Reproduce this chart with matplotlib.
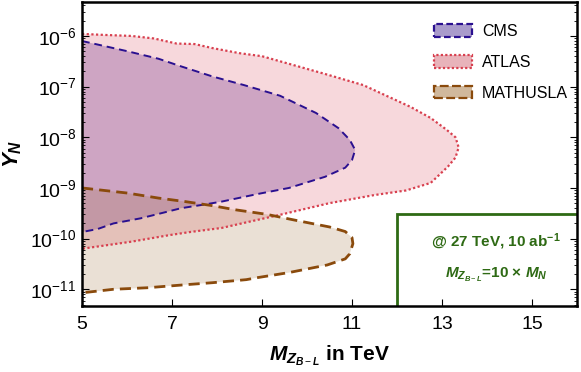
import numpy as np
import matplotlib
matplotlib.use("Agg")
import matplotlib.pyplot as plt
from matplotlib.patches import Patch, Rectangle

plt.rcParams["font.family"] = ["Liberation Sans", "DejaVu Sans"]
plt.rcParams["mathtext.fontset"] = "custom"
plt.rcParams["mathtext.rm"] = "Liberation Sans"
plt.rcParams["mathtext.it"] = "Liberation Sans:italic:bold"
plt.rcParams["mathtext.bf"] = "Liberation Sans:bold"

# closed contours: mass in TeV, log10(Y_N)
cms_x = [5.0, 5.5, 6.0, 6.7, 7.2, 7.9, 8.6, 9.4, 10.2, 10.7, 10.95, 11.07,
         11.0, 10.85, 10.4, 9.6, 8.9, 8.1, 7.7, 7.2, 6.8, 6.3, 5.7, 5.35, 5.0]
cms_logy = [-6.1, -6.2, -6.3, -6.45, -6.6, -6.8, -6.97, -7.18, -7.52, -7.82, -8.05, -8.25,
            -8.45, -8.6, -8.78, -9.0, -9.12, -9.27, -9.33, -9.4, -9.49, -9.6, -9.7, -9.81, -9.87]

atlas_x = [5.0, 5.5, 6.1, 6.6, 7.1, 7.5, 7.9, 8.5, 9.0, 9.4, 10.4, 11.25, 12.3, 12.75,
           13.1, 13.3, 13.37, 13.3, 13.13, 12.75, 12.2, 11.5, 10.5, 9.4, 8.9, 8.1,
           7.4, 6.95, 6.1, 5.0]
atlas_logy = [-5.96, -5.98, -6.0, -6.05, -6.15, -6.16, -6.24, -6.34, -6.4, -6.5, -6.75,
              -6.97, -7.4, -7.62, -7.85, -8.0, -8.2, -8.4, -8.58, -8.9, -9.05, -9.14,
              -9.3, -9.53, -9.63, -9.79, -9.87, -9.93, -10.06, -10.2]

mathusla_x = [5.0, 6.0, 6.7, 7.3, 7.9, 8.4, 9.1, 9.7, 10.5, 10.85, 11.0, 11.02, 10.95,
              10.85, 10.45, 9.6, 8.9, 8.65, 7.9, 7.3, 6.45, 5.7, 5.0]
mathusla_logy = [-9.0, -9.1, -9.2, -9.27, -9.35, -9.43, -9.52, -9.63, -9.77, -9.86, -9.98,
                 -10.1, -10.3, -10.4, -10.52, -10.67, -10.77, -10.81, -10.87, -10.91,
                 -10.97, -11.0, -11.07]

labels = ["CMS", "ATLAS", "MATHUSLA"]
xticks = [5, 7, 9, 11, 13, 15]

fig = plt.figure(figsize=(5.81, 3.72), dpi=100)
ax = fig.add_axes([82 / 581, 66 / 372, 495 / 581, 304 / 372])

styles = [
    (cms_x, cms_logy, (0.38, 0.22, 0.62), 0.32, "#2a1090", 1.4, (0, (4, 2.5))),
    (atlas_x, atlas_logy, (0.86, 0.25, 0.33), 0.2, "#d8404f", 1.6, (0, (1, 1.1))),
    (mathusla_x, mathusla_logy, (0.6, 0.4, 0.18), 0.2, "#8a4a0c", 2.0, (0, (4, 2.2))),
]

for xs, ly, fc, a, ec, lw, ls in styles:
    ys = 10.0 ** np.array(ly)
    ax.fill(xs, ys, color=fc, alpha=a, lw=0)
for xs, ly, fc, a, ec, lw, ls in styles:
    ys = 10.0 ** np.array(ly)
    ax.plot(xs, ys, color=ec, lw=lw, linestyle=ls)

ax.set_yscale("log")
ax.set_xlim(5, 16)
ax.set_ylim(10 ** -11.33, 10 ** -5.33)
ax.set_xticks(xticks)
ax.tick_params(which="both", direction="in", left=True, right=True, top=False,
               labelsize=14)
ax.tick_params(axis="y", pad=4)
ax.tick_params(axis="x", pad=7)
ax.tick_params(which="major", length=5)
ax.tick_params(which="minor", length=2.5)
for s in ax.spines.values():
    s.set_linewidth(1.8)
    s.set_zorder(5)

ax.set_xlabel(r"$M_{Z_{B-L}}$ in TeV", fontsize=15, fontweight="bold", labelpad=8)
ax.set_ylabel(r"$Y_N$", fontsize=16, fontweight="bold")
ax.yaxis.set_label_coords(-0.118, 0.5)

# info box
green = "#2e6a14"
ax.add_patch(Rectangle((12, 10 ** -11.4), 4.2, 10 ** -9.51 - 10 ** -11.4,
                       fill=False, ec=green, lw=2, zorder=4))
ax.text(14.2, 10 ** -10.06, r"@ 27 TeV, 10 ab$^{\mathbf{-1}}$", color=green,
        fontsize=11, fontweight="bold", ha="center", va="center")
ax.text(14.2, 10 ** -10.72, r"$M_{Z_{B-L}}$=10 × $M_N$", color=green,
        fontsize=11, fontweight="bold", ha="center", va="center")

handles = [
    Patch(facecolor="#a99bcb", edgecolor="#2a1090", lw=1.6, linestyle=(0, (3, 1.5))),
    Patch(facecolor="#e8b3ba", edgecolor="#d8404f", lw=1.6, linestyle=(0, (1, 1))),
    Patch(facecolor="#d0b89c", edgecolor="#8a4a0c", lw=1.6, linestyle=(0, (4, 1.5))),
]
ax.legend(handles, labels, loc="upper left", bbox_to_anchor=(0.682, 0.975), frameon=False,
          fontsize=11.5, handlelength=2.4, handleheight=0.8, labelspacing=1.0,
          handletextpad=0.6)

fig.savefig("out.png", dpi=100)
